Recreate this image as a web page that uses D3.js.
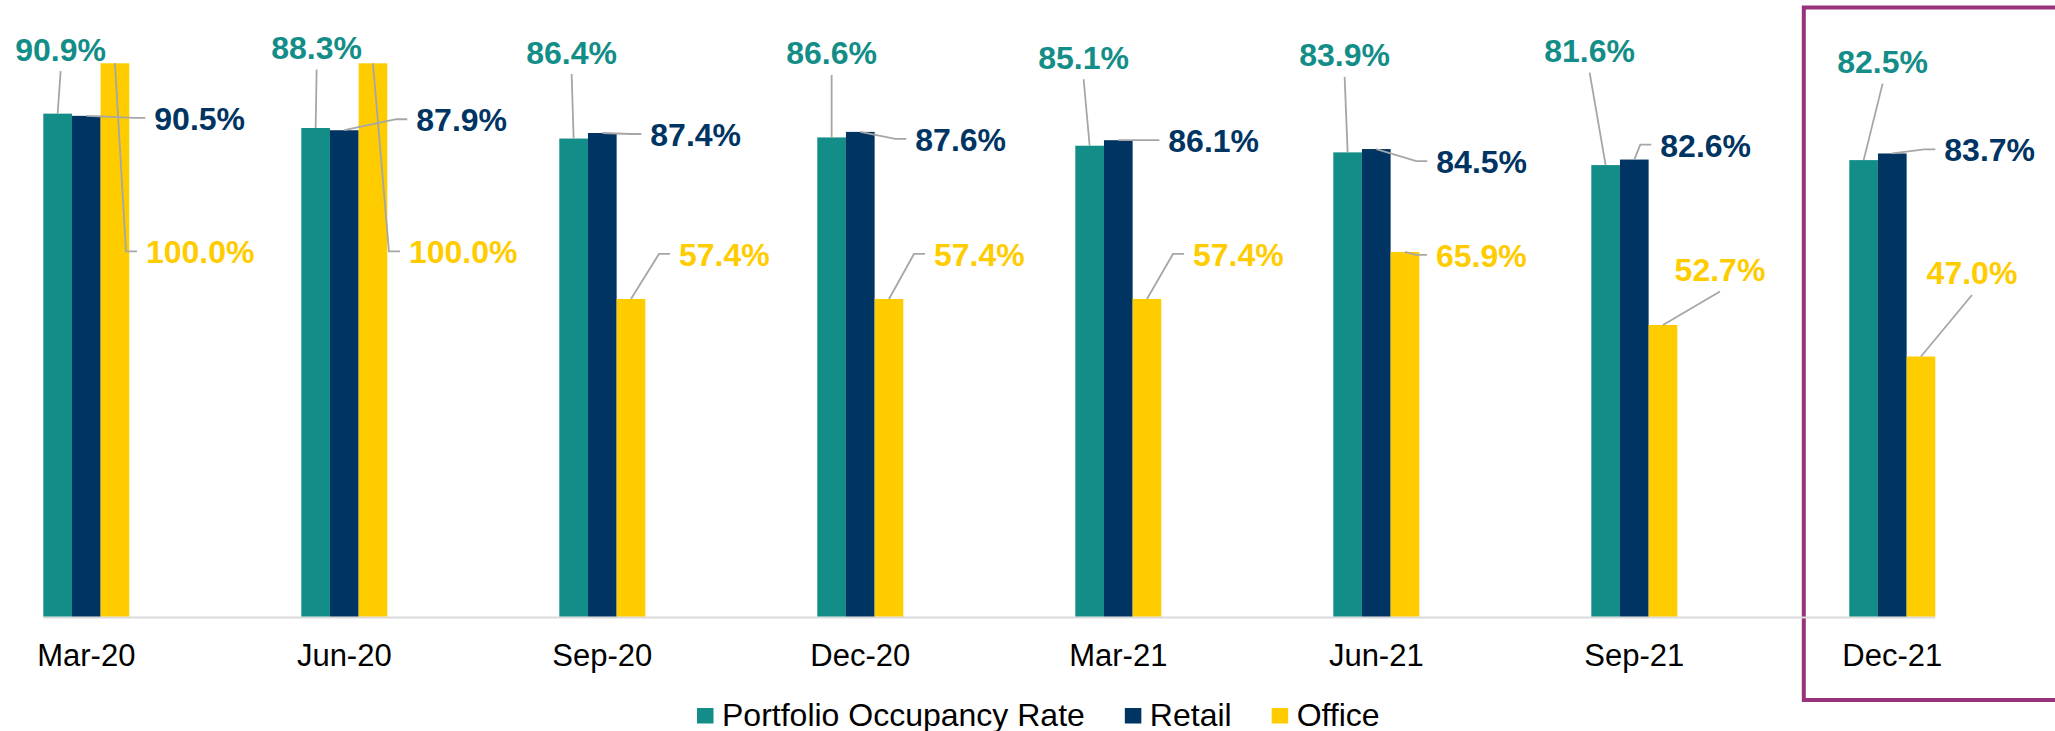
<!DOCTYPE html>
<html>
<head>
<meta charset="utf-8">
<script src="https://cdn.jsdelivr.net/npm/d3@7"></script>
<style>
    html, body { margin: 0; padding: 0; background: #ffffff; }
    svg { display: block; }
    .data_label { font-family: "Liberation Sans", Arial, sans-serif; font-weight: bold; font-size: 32px; }
    .cat_label { font-family: "Liberation Sans", Arial, sans-serif; font-size: 31px; fill: #000000; }
    .legend_label { font-family: "Liberation Sans", Arial, sans-serif; font-size: 32px; fill: #000000; }
</style>
</head>
<body>
<svg id="occupancy_chart" width="2055" height="731"></svg>
<script>
// values
const categories = ["Mar-20", "Jun-20", "Sep-20", "Dec-20", "Mar-21", "Jun-21", "Sep-21", "Dec-21"]
const seriesNames = ["Portfolio Occupancy Rate", "Retail", "Office"]
const portfolioValues = [90.9, 88.3, 86.4, 86.6, 85.1, 83.9, 81.6, 82.5]
const retailValues = [90.5, 87.9, 87.4, 87.6, 86.1, 84.5, 82.6, 83.7]
const officeValues = [100.0, 100.0, 57.4, 57.4, 57.4, 65.9, 52.7, 47.0]
const highlightedCategory = "Dec-21"

const seriesColors = ["#138d87", "#003462", "#ffcc00"]

// hand placed data labels (offset from the top centre of each bar), like the original
const portfolioLabelOffsets = [[3, -53], [1, -69], [-2, -75], [0, -73], [-6, -77], [-3, -86], [-16, -103], [19, -87]]
const retailLabelOffsets = [[68, 14], [72, 1], [48, 13], [55, 19], [50, 12], [60, 24], [26, -3], [52, 8]]
const officeLabelOffsets = [[31, 200], [36, 200], [48, -33], [45, -33], [46, -33], [31, 15], [57, -44], [51, -72]]
const portfolioLabelStyle = ["below", "below", "below", "below", "below", "below", "below", "below"]
const retailLabelStyle = ["side", "side", "side", "side", "side", "side", "side", "side"]
const officeLabelStyle = ["side", "side", "side", "side", "side", "side", "below", "below"]

function setup_OccupancyChart() {
    let svg = d3.select("#occupancy_chart")

    const baseline = 616.5
    const topY = 63.3
    const groupStep = 258
    const groupWidth = 86
    const firstBarLeft = 43.3

    let allValues = [portfolioValues, retailValues, officeValues]
    let allOffsets = [portfolioLabelOffsets, retailLabelOffsets, officeLabelOffsets]
    let allStyles = [portfolioLabelStyle, retailLabelStyle, officeLabelStyle]

    // outer band = one category group, inner band = the three bars in a group
    let x = d3.scaleBand()
        .domain(categories)
        .range([firstBarLeft - (groupStep - groupWidth) / 2, firstBarLeft - (groupStep - groupWidth) / 2 + groupStep * categories.length])
        .paddingInner(1 - groupWidth / groupStep)
        .paddingOuter((1 - groupWidth / groupStep) / 2)

    let xs = d3.scaleBand()
        .domain(seriesNames)
        .range([0, x.bandwidth()])

    let y = d3.scaleLinear()
        .domain([0, 100])
        .range([baseline, topY])

    let rows = []
    seriesNames.forEach(function (s, si) {
        categories.forEach(function (c, ci) {
            rows.push({
                series: s, si: si, cat: c, value: allValues[si][ci],
                offset: allOffsets[si][ci], style: allStyles[si][ci]
            })
        })
    })

    // highlight frame around the last quarter
    let hx = x(highlightedCategory)
    svg.append("rect")
        .attr("x", hx - 45.5)
        .attr("y", 7.5)
        .attr("width", 400)
        .attr("height", 692.5)
        .attr("fill", "none")
        .attr("stroke", "#98327a")
        .attr("stroke-width", 4)

    // category axis line
    svg.append("line")
        .attr("x1", x.range()[0] + x.step() * x.paddingOuter())
        .attr("x2", x(categories[categories.length - 1]) + x.bandwidth())
        .attr("y1", baseline + 1)
        .attr("y2", baseline + 1)
        .attr("stroke", "#d9d9d9")
        .attr("stroke-width", 2)

    svg.selectAll(".bar")
        .data(rows)
        .enter()
        .append("rect")
        .attr("class", "bar")
        .attr("x", function (d) { return x(d.cat) + xs(d.series) })
        .attr("y", function (d) { return y(d.value) })
        .attr("width", xs.bandwidth())
        .attr("height", function (d) { return baseline - y(d.value) })
        .attr("fill", function (d) { return seriesColors[d.si] })

    function barTop(d) {
        return [x(d.cat) + xs(d.series) + xs.bandwidth() / 2, y(d.value)]
    }

    // leader lines from bar tops to the labels
    svg.selectAll(".leader")
        .data(rows)
        .enter()
        .append("polyline")
        .attr("class", "leader")
        .attr("fill", "none")
        .attr("stroke", "#a6a6a6")
        .attr("stroke-width", 1.8)
        .attr("points", function (d) {
            let [bx, by] = barTop(d)
            let lx = bx + d.offset[0]
            let ly = by + d.offset[1]
            let pts
            if (d.style === "below") {
                pts = [[bx, by], [lx, ly + 10.5]]
            } else {
                pts = [[bx, by], [lx - 20, ly - 12], [lx - 9, ly - 12]]
            }
            return pts.map(function (p) { return p.join(",") }).join(" ")
        })

    svg.selectAll(".data_label")
        .data(rows)
        .enter()
        .append("text")
        .attr("class", "data_label")
        .attr("x", function (d) { return barTop(d)[0] + d.offset[0] })
        .attr("y", function (d) { return barTop(d)[1] + d.offset[1] })
        .attr("text-anchor", function (d) { return d.style === "below" ? "middle" : "start" })
        .attr("fill", function (d) { return seriesColors[d.si] })
        .text(function (d) { return d.value.toFixed(1) + "%" })

    svg.selectAll(".cat_label")
        .data(categories)
        .enter()
        .append("text")
        .attr("class", "cat_label")
        .attr("x", function (d) { return x(d) + x.bandwidth() / 2 })
        .attr("y", 666)
        .attr("text-anchor", "middle")
        .text(function (d) { return d })

    // legend along the bottom
    let legend = svg.append("g").attr("transform", "translate(697, 0)")
    let lx = 0
    seriesNames.forEach(function (s, i) {
        legend.append("rect")
            .attr("x", lx)
            .attr("y", 708)
            .attr("width", 16.5)
            .attr("height", 15.5)
            .attr("fill", seriesColors[i])
        let t = legend.append("text")
            .attr("class", "legend_label")
            .attr("x", lx + 25)
            .attr("y", 725.5)
            .text(s)
        lx += 25 + t.node().getComputedTextLength() + 40
    })
}

setup_OccupancyChart()
</script>
</body>
</html>
